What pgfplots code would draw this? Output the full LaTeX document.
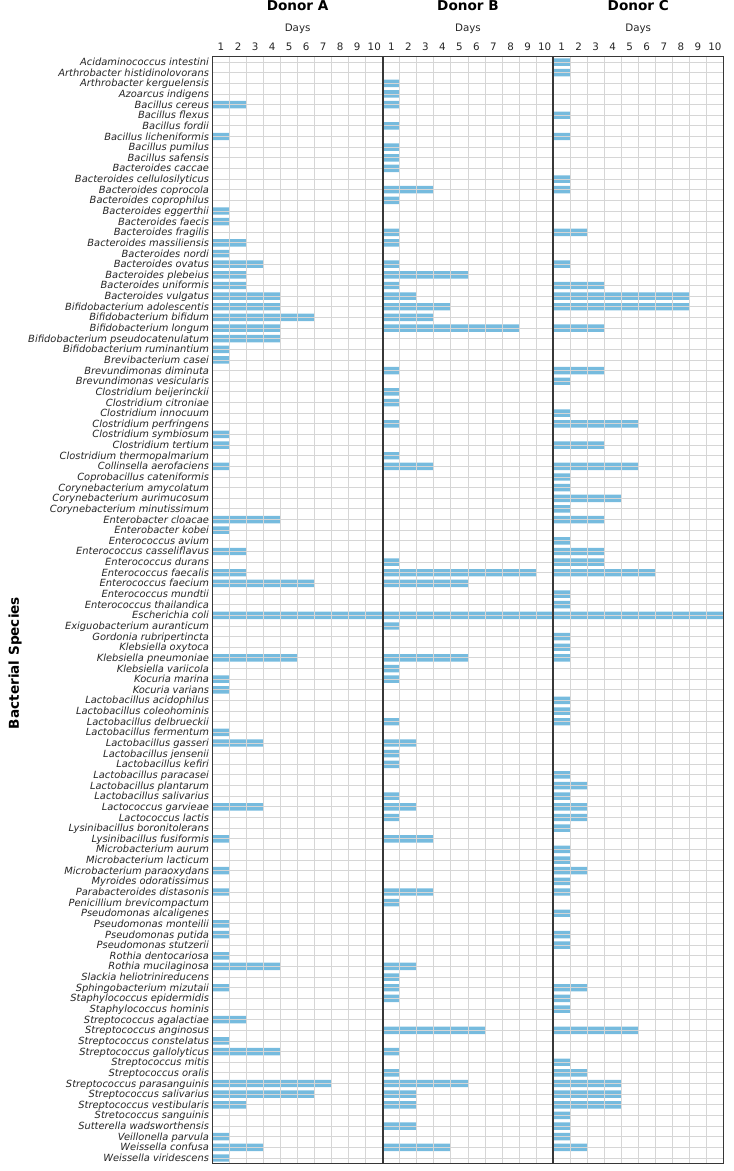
\documentclass[border=0pt]{standalone}
\usepackage{fontspec}
\setmainfont{DejaVu Sans}[ItalicFont={DejaVu Sans Oblique},BoldFont={DejaVu Sans Bold},BoldItalicFont={DejaVu Sans Bold Oblique}]
\usepackage{pgfplots}
\usepackage{pgfplotstable}
\pgfplotsset{compat=1.18}
\definecolor{barblue}{RGB}{118,187,222}
\definecolor{gridgray}{RGB}{214,214,214}
\definecolor{spine}{RGB}{55,55,55}

\pgfplotstableread{
idx A B C
0 0 0 1
1 0 0 1
2 0 1 0
3 0 1 0
4 2 1 0
5 0 0 1
6 0 1 0
7 1 0 1
8 0 1 0
9 0 1 0
10 0 1 0
11 0 0 1
12 0 3 1
13 0 1 0
14 1 0 0
15 1 0 0
16 0 1 2
17 2 1 0
18 1 0 0
19 3 1 1
20 2 5 0
21 2 1 3
22 4 2 8
23 4 4 8
24 6 3 0
25 4 8 3
26 4 0 0
27 1 0 0
28 1 0 0
29 0 1 3
30 0 0 1
31 0 1 0
32 0 1 0
33 0 0 1
34 0 1 5
35 1 0 0
36 1 0 3
37 0 1 0
38 1 3 5
39 0 0 1
40 0 0 1
41 0 0 4
42 0 0 1
43 4 0 3
44 1 0 0
45 0 0 1
46 2 0 3
47 0 1 3
48 2 9 6
49 6 5 0
50 0 0 1
51 0 0 1
52 10 10 10
53 0 1 0
54 0 0 1
55 0 0 1
56 5 5 1
57 0 1 0
58 1 1 0
59 1 0 0
60 0 0 1
61 0 0 1
62 0 1 1
63 1 0 0
64 3 2 0
65 0 1 0
66 0 1 0
67 0 0 1
68 0 0 2
69 0 1 1
70 3 2 2
71 0 1 2
72 0 0 1
73 1 3 0
74 0 0 1
75 0 0 1
76 1 0 2
77 0 0 1
78 1 3 1
79 0 1 0
80 0 0 1
81 1 0 0
82 1 0 1
83 0 0 1
84 1 0 0
85 4 2 0
86 0 1 0
87 1 1 2
88 0 1 1
89 0 0 1
90 2 0 0
91 0 6 5
92 1 0 0
93 4 1 0
94 0 0 1
95 0 1 2
96 7 5 4
97 6 2 4
98 2 2 4
99 0 0 1
100 0 2 1
101 1 0 1
102 3 4 2
103 1 0 0
}\datatable

\pgfplotsset{
  panel/.style={
    scale only axis, width=170.3pt, height=1106.6pt,
    anchor=south west,
    xmin=0, xmax=10, ymin=-0.5, ymax=103.5, y dir=reverse,
    xbar, bar width=0.7,
    xtick={0.5,1.5,2.5,3.5,4.5,5.5,6.5,7.5,8.5,9.5},
    xticklabels={1,2,3,4,5,6,7,8,9,10},
    xticklabel pos=top,
    minor xtick={1,2,3,4,5,6,7,8,9},
    xminorgrids=true, xmajorgrids=false,
    ytick={0,1,...,103}, ymajorgrids=true,
    major tick length=0pt, minor tick length=0pt,
    grid style={gridgray, line width=0.9pt},
    minor grid style={gridgray, line width=0.9pt},
    axis on top,
    axis line style={spine, line width=1.4pt},
    xticklabel style={font=\fontsize{10.3}{12}\selectfont, text=black!85, anchor=center, yshift=10pt},
    title style={font=\fontsize{13.6}{16}\selectfont\bfseries, at={(axis description cs:0.5,1)}, anchor=center, yshift=44.7pt},
    xlabel style={font=\fontsize{10.3}{12}\selectfont, text=black!85, at={(axis description cs:0.5,1)}, anchor=center, yshift=27.7pt},
    xlabel={Days},
    yticklabel style={font=\fontsize{9.9}{10}\selectfont\itshape, text=black!85, anchor=east, text height=7pt, text depth=0pt},
  }
}

\begin{document}
\begin{tikzpicture}
\useasboundingbox (0,0) rectangle (734pt,1171pt);

\begin{axis}[panel, at={(212.5pt,7.7pt)}, title={Donor A},
  yticklabels={Acidaminococcus intestini, Arthrobacter histidinolovorans, Arthrobacter kerguelensis, Azoarcus indigens, Bacillus cereus, Bacillus flexus, Bacillus fordii, Bacillus licheniformis, Bacillus pumilus, Bacillus safensis, Bacteroides caccae, Bacteroides cellulosilyticus, Bacteroides coprocola, Bacteroides coprophilus, Bacteroides eggerthii, Bacteroides faecis, Bacteroides fragilis, Bacteroides massiliensis, Bacteroides nordi, Bacteroides ovatus, Bacteroides plebeius, Bacteroides uniformis, Bacteroides vulgatus, Bifidobacterium adolescentis, Bifidobacterium bifidum, Bifidobacterium longum, Bifidobacterium pseudocatenulatum, Bifidobacterium ruminantium, Brevibacterium casei, Brevundimonas diminuta, Brevundimonas vesicularis, Clostridium beijerinckii, Clostridium citroniae, Clostridium innocuum, Clostridium perfringens, Clostridium symbiosum, Clostridium tertium, Clostridium thermopalmarium, Collinsella aerofaciens, Coprobacillus cateniformis, Corynebacterium amycolatum, Corynebacterium aurimucosum, Corynebacterium minutissimum, Enterobacter cloacae, Enterobacter kobei, Enterococcus avium, Enterococcus casseliflavus, Enterococcus durans, Enterococcus faecalis, Enterococcus faecium, Enterococcus mundtii, Enterococcus thailandica, Escherichia coli, Exiguobacterium auranticum, Gordonia rubripertincta, Klebsiella oxytoca, Klebsiella pneumoniae, Klebsiella variicola, Kocuria marina, Kocuria varians, Lactobacillus acidophilus, Lactobacillus coleohominis, Lactobacillus delbrueckii, Lactobacillus fermentum, Lactobacillus gasseri, Lactobacillus jensenii, Lactobacillus kefiri, Lactobacillus paracasei, Lactobacillus plantarum, Lactobacillus salivarius, Lactococcus garvieae, Lactococcus lactis, Lysinibacillus boronitolerans, Lysinibacillus fusiformis, Microbacterium aurum, Microbacterium lacticum, Microbacterium paraoxydans, Myroides odoratissimus, Parabacteroides distasonis, Penicillium brevicompactum, Pseudomonas alcaligenes, Pseudomonas monteilii, Pseudomonas putida, Pseudomonas stutzerii, Rothia dentocariosa, Rothia mucilaginosa, Slackia heliotrinireducens, Sphingobacterium mizutaii, Staphylococcus epidermidis, Staphylococcus hominis, Streptococcus agalactiae, Streptococcus anginosus, Streptococcus constelatus, Streptococcus gallolyticus, Streptococcus mitis, Streptococcus oralis, Streptococcus parasanguinis, Streptococcus salivarius, Streptococcus vestibularis, Stretococcus sanguinis, Sutterella wadsworthensis, Veillonella parvula, Weissella confusa, Weissella viridescens}]
\addplot[fill=barblue, draw=none] table[x=A, y=idx] {\datatable};
\end{axis}

\begin{axis}[panel, at={(382.8pt,7.7pt)}, title={Donor B}, yticklabels={}]
\addplot[fill=barblue, draw=none] table[x=B, y=idx] {\datatable};
\end{axis}

\begin{axis}[panel, at={(553.1pt,7.7pt)}, title={Donor C}, yticklabels={}]
\addplot[fill=barblue, draw=none] table[x=C, y=idx] {\datatable};
\end{axis}

\node[rotate=90, font=\fontsize{13.6}{16}\selectfont\bfseries] at (15pt,508pt) {Bacterial Species};
\end{tikzpicture}
\end{document}
